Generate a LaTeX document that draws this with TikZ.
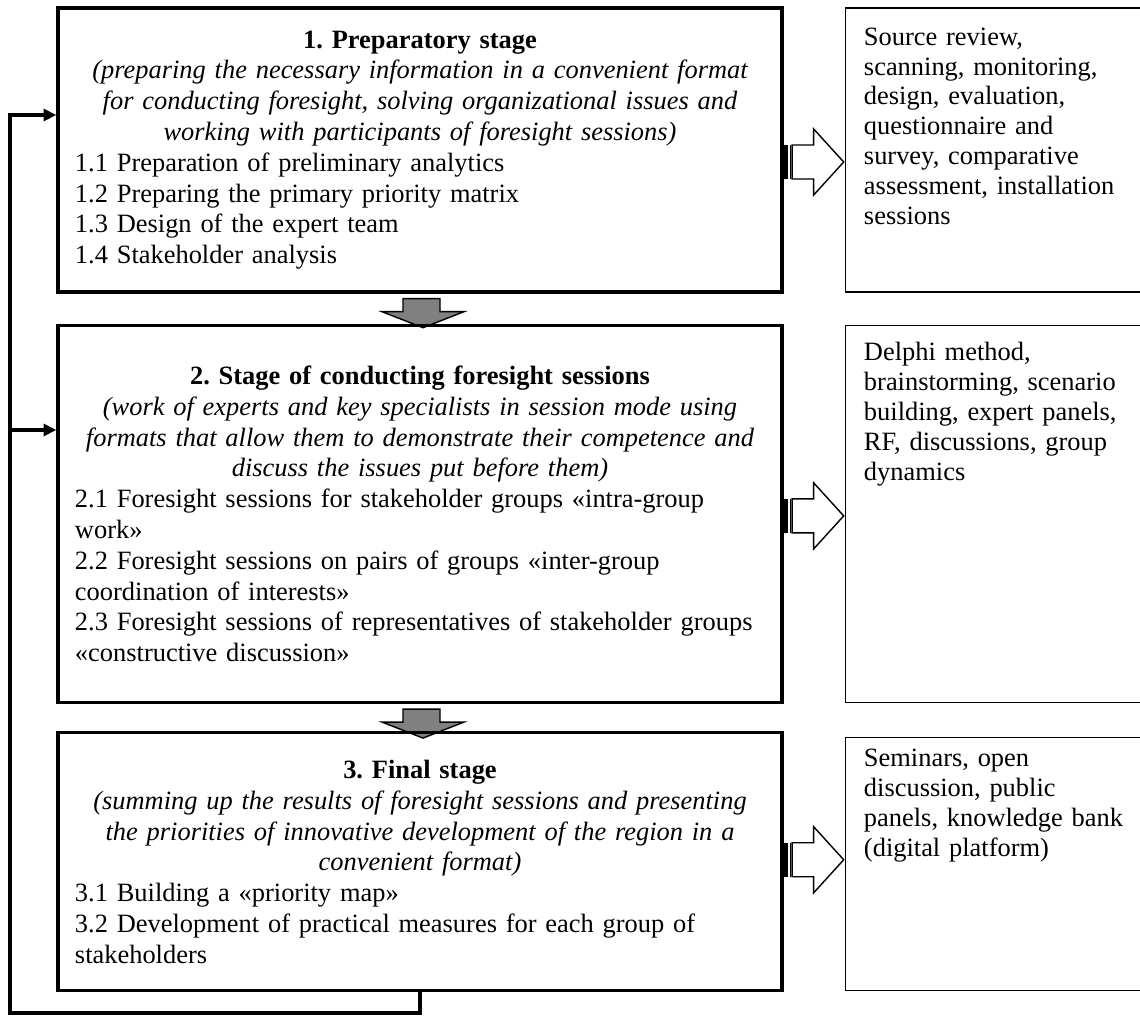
\documentclass[tikz,border=0pt]{standalone}
\usepackage{fontspec}
\setmainfont{Liberation Serif}
\usetikzlibrary{arrows.meta,positioning,calc,backgrounds}

\newcommand{\blockpfeil}[1]{%
  \begin{scope}[shift={(#1)}]
    \fill (0,-17) rectangle (4.5,17);
    \draw[line width=0.9pt] (7,-17) -- (7,17);
    \draw[line width=1pt, fill=white] (8.5,-17) -- (30,-17) -- (30,-33) -- (60,0) -- (30,33) -- (30,17) -- (8.5,17) -- cycle;
  \end{scope}}
\newcommand{\downpfeil}[1]{%
  \begin{scope}[shift={(#1)}]
    \draw[line width=1pt, fill=gray] (-17,5) -- (20,5) -- (20,18) -- (44,18) -- (3,34) -- (-38,18) -- (-17,18) -- cycle;
  \end{scope}}

\begin{document}
\frenchspacing
\begin{tikzpicture}[x=0.25mm, y=-0.25mm,
    stage/.style={rectangle, draw=black, line width=2.4pt, text width=172.5mm, inner xsep=4.25mm, minimum width=181mm, font=\fontsize{18.8}{21.9}\selectfont},
    method/.style={rectangle, draw=black, line width=1pt, minimum width=74mm},
    methodtext/.style={anchor=north west, inner sep=0pt, text width=68mm, align=left, font=\fontsize{18.8}{21.3}\selectfont},
    pfeil/.style={{Triangle[length=3.2mm,width=3mm]}-, line width=3pt}]

\clip (0,0) rectangle (1140,1015);

% stages
\node[stage, minimum height=71mm] (s1) at (420,150) {{\centering\textbf{1. Preparatory stage}\\
  \textit{(preparing the necessary information in a convenient format\\
  for conducting foresight, solving organizational issues and\\
  working with participants of foresight sessions)}\par}
  \noindent 1.1 Preparation of preliminary analytics\\
  1.2 Preparing the primary priority matrix\\
  1.3 Design of the expert team\\
  1.4 Stakeholder analysis};
\node[stage, minimum height=94.25mm, below=7.5mm of s1] (s2) {{\centering\textbf{2. Stage of conducting foresight sessions}\\
  \textit{(work of experts and key specialists in session mode using\\
  formats that allow them to demonstrate their competence and\\
  discuss the issues put before them)}\par}
  \noindent 2.1 Foresight sessions for stakeholder groups «intra-group\\
  work»\\
  2.2 Foresight sessions on pairs of groups «inter-group\\
  coordination of interests»\\
  2.3 Foresight sessions of representatives of stakeholder groups\\
  «constructive discussion»};
\node[stage, minimum height=64.5mm, below=6.75mm of s2] (s3) {{\centering\textbf{3. Final stage}\\
  \textit{(summing up the results of foresight sessions and presenting\\
  the priorities of innovative development of the region in a\\
  convenient format)}\par}
  \noindent 3.1 Building a «priority map»\\
  3.2 Development of practical measures for each group of\\
  stakeholders};

% methods
\node[method, minimum height=71mm, right=15.25mm of s1] (r1) {};
\node[method, minimum height=94.25mm, right=15.25mm of s2] (r2) {};
\node[method, minimum height=63.25mm, right=15.25mm of s3, yshift=-0.6mm] (r3) {};
\node[methodtext] (m1) at ([shift={(19,20)}]r1.north west) {Source review,\\ scanning, monitoring,\\ design, evaluation,\\ questionnaire and\\ survey, comparative\\ assessment, installation\\ sessions};
\node[methodtext] (m2) at ([shift={(19,17)}]r2.north west) {Delphi method,\\ brainstorming, scenario\\ building, expert panels,\\ RF, discussions, group\\ dynamics};
\node[methodtext] (m3) at ([shift={(19,12)}]r3.north west) {Seminars, open\\ discussion, public\\ panels, knowledge bank\\ (digital platform)};

\blockpfeil{$(s1.east)+(0,12)$}
\blockpfeil{$(s2.east)+(0,2)$}
\blockpfeil{$(s3.east)+(0,-2)$}

\begin{pgfonlayer}{background}
\downpfeil{s1.south}
\downpfeil{s2.south}
\end{pgfonlayer}

% feedback loop
\coordinate (lb) at (10,1013);
\coordinate (l1) at (10,115);
\coordinate (l2) at (10,430);
\draw[pfeil] (l1 -| s1.west) -- (l1) -- (lb) -| (s3.south);
\draw[pfeil] (l2 -| s2.west) -- (l2);

\end{tikzpicture}
\end{document}
